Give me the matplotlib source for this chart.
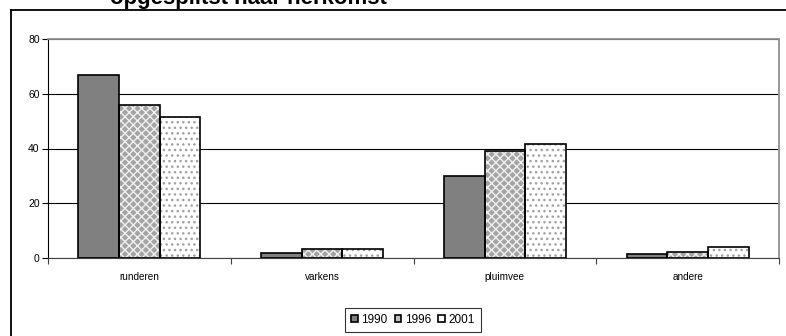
import matplotlib.pyplot as plt
import numpy as np
from matplotlib.lines import Line2D

plt.rcParams['font.family'] = ['Liberation Sans', 'DejaVu Sans']

# Aandeel per herkomst (%)
categories = ['runderen', 'varkens', 'pluimvee', 'andere']
years = ['1990', '1996', '2001']
v1990 = [67, 2, 30, 1.5]
v1996 = [56, 3.3, 39.2, 2.1]
v2001 = [51.5, 3.3, 41.6, 4]
yticks = [0, 20, 40, 60, 80]

W, H = 786, 336
fig = plt.figure(figsize=(W / 100, H / 100), dpi=100)
ax = fig.add_axes([48 / W, 1 - 258 / H, (779 - 48) / W, (258 - 39) / H])

x = np.arange(len(categories))
bw = 1 / 4.5
styles = [
    dict(face='#808080', hatch=None, hcol=None, legend='#808080'),
    dict(face='#a4a4a4', hatch='xxxx', hcol='#f0f0f0', legend='#c0c0c0'),
    dict(face='white', hatch='...', hcol='#a0a0a0', legend='white'),
]
series = [v1990, v1996, v2001]

for i, (vals, st) in enumerate(zip(series, styles)):
    pos = x + (i - 1) * bw
    if st['hatch']:
        ax.bar(pos, vals, bw, color=st['face'], hatch=st['hatch'],
               edgecolor=st['hcol'], linewidth=0, zorder=2)
    else:
        ax.bar(pos, vals, bw, color=st['face'], linewidth=0, zorder=2)
    ax.bar(pos, vals, bw, facecolor='none', edgecolor='black',
           linewidth=1.2, zorder=3)

ax.set_xlim(-0.5, len(categories) - 0.5)
ax.set_ylim(0, 80)
ax.set_yticks(yticks)
ax.set_yticklabels([str(t) for t in yticks], fontsize=7.5)
ax.yaxis.grid(True, color='black', linewidth=0.8, zorder=1)
ax.set_axisbelow(True)

ax.set_xticks(x)
ax.set_xticklabels(categories, fontsize=7.2)
ax.tick_params(axis='x', length=0, pad=10)
ax.set_xticks(np.arange(len(categories) + 1) - 0.5, minor=True)
ax.tick_params(axis='x', which='minor', length=4, width=0.8, color='#404040')
ax.tick_params(axis='y', length=4, width=0.8, pad=2)

ax.spines['left'].set_color('black')
ax.spines['bottom'].set_color('#404040')
for s in ('top', 'right'):
    ax.spines[s].set_color('#909090')
    ax.spines[s].set_linewidth(1.3)

# legenda met drie vakjes naast elkaar
handles = [plt.Rectangle((0, 0), 1, 1, facecolor=st['legend'],
                         edgecolor='black', linewidth=1.2) for st in styles]
leg = fig.legend(handles, years, loc='center', ncol=3, fontsize=8.5,
                 bbox_to_anchor=(413 / W, 1 - 320 / H), frameon=True,
                 fancybox=False, edgecolor='black', handlelength=0.55,
                 handleheight=0.55, handletextpad=0.3, columnspacing=0.6,
                 borderpad=0.55, borderaxespad=0)
leg.get_frame().set_linewidth(0.8)

# kader rond de grafiek
fig.add_artist(Line2D([11 / W, 1], [1 - 10 / H, 1 - 10 / H], color='black',
                      linewidth=1.3, transform=fig.transFigure))
fig.add_artist(Line2D([11 / W, 11 / W], [0, 1 - 10 / H], color='black',
                      linewidth=1.3, transform=fig.transFigure))

fig.text(110 / W, 1 - 4 / H, 'opgesplitst naar herkomst', fontsize=16,
         fontweight='bold', va='baseline', ha='left')

fig.savefig('out.png', dpi=100)
